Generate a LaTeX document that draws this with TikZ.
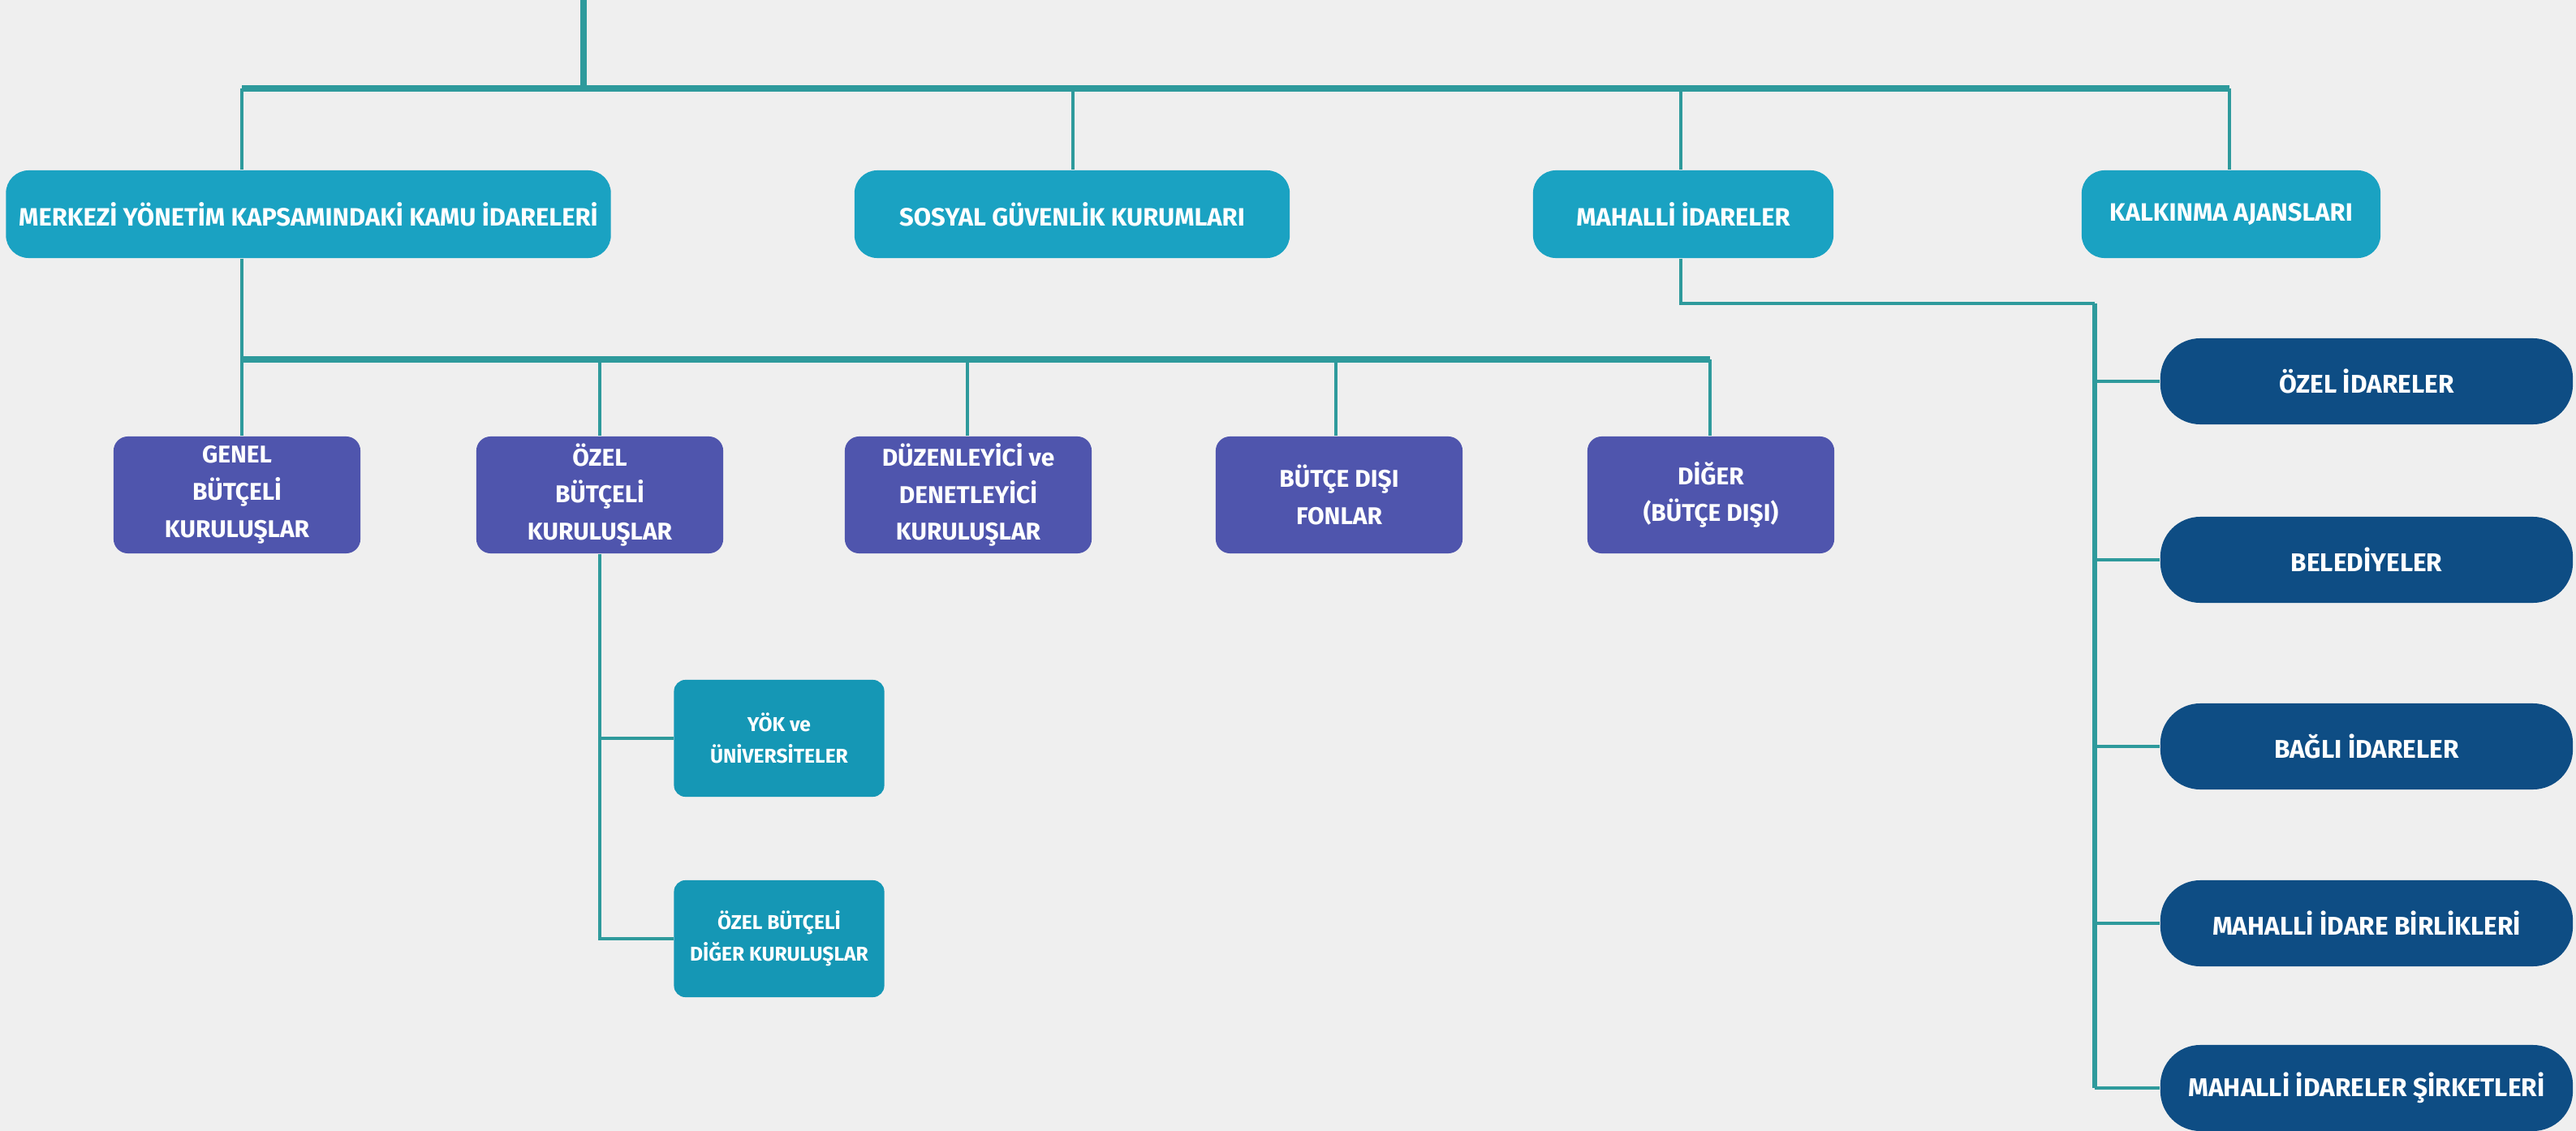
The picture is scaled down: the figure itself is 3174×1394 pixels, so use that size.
\documentclass[tikz,border=0pt]{standalone}
\usepackage{fontspec}
\setmainfont{Fira Sans}
\definecolor{bg}{HTML}{EFEFEF}
\definecolor{topc}{HTML}{1AA2C2}
\definecolor{purp}{HTML}{4F55AD}
\definecolor{smallc}{HTML}{1597B5}
\definecolor{navy}{HTML}{0E4D84}
\definecolor{linec}{HTML}{2E9A9C}
\tikzset{
  topbox/.style={draw=none, fill=topc, rounded corners=8pt, minimum height=1.08cm, text=white, font=\bfseries\fontsize{8.8}{10}\selectfont, inner sep=0pt},
  midbox/.style={draw=none, fill=purp, rounded corners=5pt, minimum width=3.04cm, minimum height=1.44cm, text=white, align=center, font=\bfseries\fontsize{8.5}{13}\selectfont, inner sep=0pt},
  smallbox/.style={draw=none, fill=smallc, rounded corners=4pt, minimum width=2.59cm, minimum height=1.44cm, text=white, align=center, font=\bfseries\fontsize{7}{11}\selectfont, inner sep=0pt},
  rightbox/.style={draw=none, fill=navy, rounded corners=14pt, minimum width=5.08cm, minimum height=1.06cm, text=white, font=\bfseries\fontsize{9}{10}\selectfont, inner sep=0pt},
  bus/.style={draw=linec, line width=2pt},
  vline/.style={draw=linec, line width=1.6pt},
  drop/.style={draw=linec, line width=1.2pt},
}
\begin{document}
\begin{tikzpicture}[x=0.01cm, y=-0.01cm]
\fill[bg] (0,0) rectangle (3174,1394);
\useasboundingbox (0,0) rectangle (3174,1394);

% top row
\node[topbox, minimum width=7.45cm] (mer) at (380,264) {MERKEZİ YÖNETİM KAPSAMINDAKİ KAMU İDARELERİ};
\node[topbox, minimum width=5.36cm] (sos) at (1321,264) {SOSYAL GÜVENLİK KURUMLARI};
\node[topbox, minimum width=3.70cm] (mah) at (2074,264) {MAHALLİ İDARELER};
\node[topbox, minimum width=3.68cm] (kal) at (2749,264) {KALKINMA AJANSLARI};

% second row
\node[midbox] (gen) at (292,610) {GENEL\\BÜTÇELİ\\KURULUŞLAR};
\node[midbox] (ozb) at (739,610) {ÖZEL\\BÜTÇELİ\\KURULUŞLAR};
\node[midbox] (duz) at (1193,610) {DÜZENLEYİCİ ve\\DENETLEYİCİ\\KURULUŞLAR};
\node[midbox] (bdf) at (1650,610) {BÜTÇE DIŞI\\FONLAR};
\node[midbox] (dig) at (2108,610) {DİĞER\\(BÜTÇE DIŞI)};

% third level small
\node[smallbox] (yok) at (960,910) {YÖK ve\\ÜNİVERSİTELER};
\node[smallbox] (obd) at (960,1157) {ÖZEL BÜTÇELİ\\DİĞER KURULUŞLAR};

% right column
\node[rightbox] (r1) at (2916,470) {ÖZEL İDARELER};
\node[rightbox] (r2) at (2916,690) {BELEDİYELER};
\node[rightbox] (r3) at (2916,920) {BAĞLI İDARELER};
\node[rightbox] (r4) at (2916,1138) {MAHALLİ İDARE BİRLİKLERİ};
\node[rightbox] (r5) at (2916,1341) {MAHALLİ İDARELER ŞİRKETLERİ};

% connectors top
\coordinate (root) at (719,0);
\coordinate (b1) at (298,109);
\coordinate (b2) at (1322,109);
\coordinate (b3) at (2071,109);
\coordinate (b4) at (2747,109);
\draw[bus] (root) -- (root |- b1);
\draw[bus] (b1) -- (b4);
\draw[drop] (b1) -- (b1 |- mer.north);
\draw[drop] (b2) -- (b2 |- sos.north);
\draw[drop] (b3) -- (b3 |- mah.north);
\draw[drop] (b4) -- (b4 |- kal.north);

% second level
\coordinate (c1) at (298,443);
\coordinate (c2) at (739,443);
\coordinate (c3) at (1192,443);
\coordinate (c4) at (1646,443);
\coordinate (c5) at (2107,443);
\draw[drop] (b1 |- mer.south) -- (c1);
\draw[bus] (c1) -- (c5);
\draw[drop] (c1) -- (c1 |- gen.north);
\draw[drop] (c2) -- (ozb.north);
\draw[drop] (c3) -- (c3 |- duz.north);
\draw[drop] (c4) -- (c4 |- bdf.north);
\draw[drop] (c5) -- (c5 |- dig.north);

% third level
\draw[drop] (ozb.south) |- (obd.west);
\draw[drop] (ozb.south |- yok.west) -- (yok.west);

% right column
\coordinate (r0) at (2581,374);
\draw[drop] (b3 |- mah.south) |- (r0);
\draw[vline] (r0) -- (r0 |- r5.west);
\draw[drop] (r0 |- r5.west) -- (r5.west);
\draw[drop] (r0 |- r1.west) -- (r1.west);
\draw[drop] (r0 |- r2.west) -- (r2.west);
\draw[drop] (r0 |- r3.west) -- (r3.west);
\draw[drop] (r0 |- r4.west) -- (r4.west);
\end{tikzpicture}
\end{document}
